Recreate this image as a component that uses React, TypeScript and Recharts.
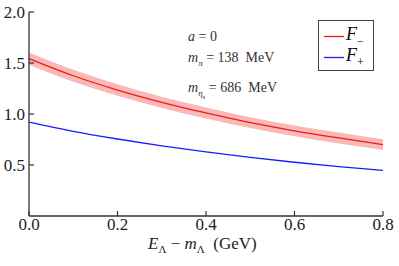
import React from 'react';
import { ComposedChart, Line, Area, XAxis, YAxis } from 'recharts';

// valores
const energies = [0, 0.1, 0.2, 0.3, 0.4, 0.5, 0.6, 0.7, 0.8];
const fMinus = [1.543, 1.375, 1.235, 1.115, 1.01, 0.915, 0.835, 0.765, 0.70];
const fMinusLow = [1.483, 1.317, 1.179, 1.06, 0.956, 0.862, 0.782, 0.712, 0.648];
const fMinusHigh = [1.603, 1.433, 1.291, 1.17, 1.064, 0.968, 0.888, 0.818, 0.752];
const fPlus = [0.92, 0.83, 0.755, 0.688, 0.628, 0.574, 0.527, 0.485, 0.448];

const xTicks = [0, 0.2, 0.4, 0.6, 0.8];
const yTicks = [0.5, 1.0, 1.5, 2.0];

const data = energies.map((x, i) => ({
  x,
  fMinus: fMinus[i],
  fPlus: fPlus[i],
  band: [fMinusLow[i], fMinusHigh[i]],
}));

const serif = "'Liberation Serif', 'Times New Roman', Times, serif";
const frame = '#333';
const red = '#f01818';
const blue = '#1a1aff';
const tickLineStyle = { stroke: frame, strokeWidth: 1.2 };
const blank = () => '';

// rótulos dos eixos desenhados à mão para controlar fonte e tamanho
const XTick = ({ x, y, payload }: any) => (
  <text x={x} y={y} dy="0.72em" textAnchor="middle" fontFamily={serif} fontSize={17} fill="#222">
    {payload.value.toFixed(1)}
  </text>
);

const YTick = ({ x, y, payload }: any) => (
  <text x={x} y={y} dy="0.36em" textAnchor="end" fontFamily={serif} fontSize={17} fill="#222">
    {payload.value.toFixed(1)}
  </text>
);

export default function App() {
  return (
    <div style={{ position: 'absolute', left: 0, top: 0, width: 399, height: 266, background: '#fff', fontFamily: serif }}>
      <ComposedChart width={399} height={266} data={data} margin={{ top: 12, right: 16, left: 0, bottom: 0 }}>
        <XAxis
          dataKey="x"
          type="number"
          domain={[0, 0.8]}
          ticks={xTicks}
          tick={<XTick />}
          tickLine={tickLineStyle}
          tickSize={-5}
          tickMargin={7}
          height={50}
          stroke={frame}
          strokeWidth={1.3}
          interval={0}
        />
        <XAxis
          xAxisId="top"
          orientation="top"
          dataKey="x"
          type="number"
          domain={[0, 0.8]}
          ticks={xTicks}
          tickFormatter={blank}
          tickLine={tickLineStyle}
          tickSize={-5}
          height={0}
          stroke={frame}
          strokeWidth={1.3}
          interval={0}
        />
        <YAxis
          type="number"
          domain={[0, 2]}
          ticks={yTicks}
          tick={<YTick />}
          tickLine={tickLineStyle}
          tickSize={-5}
          tickMargin={9}
          width={29}
          stroke={frame}
          strokeWidth={1.3}
          interval={0}
        />
        <YAxis
          yAxisId="right"
          orientation="right"
          type="number"
          domain={[0, 2]}
          ticks={yTicks}
          tickFormatter={blank}
          tickLine={tickLineStyle}
          tickSize={-5}
          width={0}
          stroke={frame}
          strokeWidth={1.3}
          interval={0}
        />
        <Area
          dataKey="band"
          type="monotone"
          stroke="none"
          fill="#f9b9b9"
          fillOpacity={1}
          isAnimationActive={false}
        />
        <Line dataKey="fMinus" type="monotone" stroke={red} strokeWidth={1.3} dot={false} isAnimationActive={false} />
        <Line dataKey="fPlus" type="monotone" stroke={blue} strokeWidth={1.3} dot={false} isAnimationActive={false} />
      </ComposedChart>

      <div style={{ position: 'absolute', left: 188, top: 29, fontSize: 14, color: '#333', lineHeight: '15px', whiteSpace: 'nowrap' }}>
        <div><i>a</i> = 0</div>
        <div style={{ marginTop: 6 }}><i>m</i><sub style={{ fontSize: 9 }}><i>π</i></sub> = 138&nbsp; MeV</div>
        <div style={{ marginTop: 9 }}><i>m</i><sub style={{ fontSize: 9 }}><i>η</i><sub style={{ fontSize: 7 }}>s</sub></sub> = 686&nbsp; MeV</div>
      </div>

      <div style={{ position: 'absolute', left: 318, top: 20, width: 56, height: 51, border: '1px solid #444', background: '#fff', boxSizing: 'border-box' }}>
        <svg width={26} height={49} style={{ position: 'absolute', left: 0, top: 0 }}>
          <line x1={5} x2={25} y1={15.5} y2={15.5} stroke={red} strokeWidth={1.3} />
          <line x1={5} x2={25} y1={36.5} y2={36.5} stroke={blue} strokeWidth={1.3} />
        </svg>
        <div style={{ position: 'absolute', left: 27, top: 2, fontSize: 18, lineHeight: '22px' }}><i>F</i><sub style={{ fontSize: 12 }}>−</sub></div>
        <div style={{ position: 'absolute', left: 27, top: 23, fontSize: 18, lineHeight: '22px' }}><i>F</i><sub style={{ fontSize: 12 }}>+</sub></div>
      </div>

      <div style={{ position: 'absolute', left: 148, top: 234, fontSize: 17, color: '#222', whiteSpace: 'nowrap' }}>
        <i>E</i><sub style={{ fontSize: 11 }}>Λ</sub> − <i>m</i><sub style={{ fontSize: 11 }}>Λ</sub>&nbsp; (GeV)
      </div>
    </div>
  );
}
